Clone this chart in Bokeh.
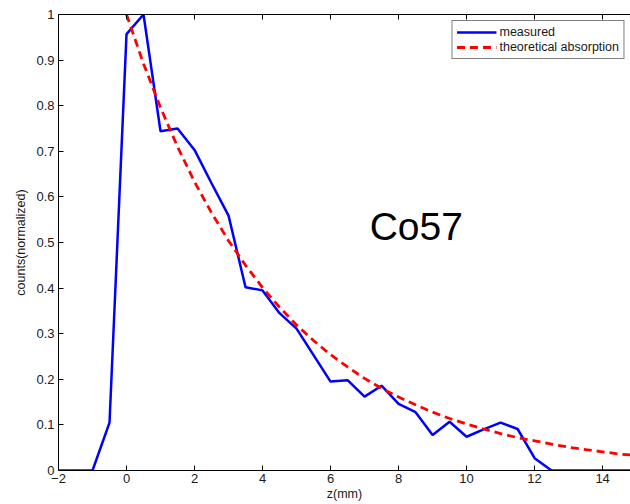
from bokeh.plotting import figure
from bokeh.models import LinearAxis, FixedTicker, Label, Legend, LegendItem, Range1d
from bokeh.embed import file_html
from bokeh.resources import INLINE

# measured profile
z_measured = [-2, -1.5, -1, -0.5, 0, 0.5, 1, 1.5, 2, 2.5, 3, 3.5, 4, 4.5, 5, 5.5,
              6, 6.5, 7, 7.5, 8, 8.5, 9, 9.5, 10, 10.5, 11, 11.5, 12, 12.5,
              13, 13.5, 14, 14.5, 15]
counts_measured = [0, 0, 0, 0.105, 0.957, 1.0, 0.744, 0.75, 0.703, 0.63, 0.559,
                   0.402, 0.395, 0.345, 0.311, 0.253, 0.195, 0.198, 0.162, 0.186,
                   0.146, 0.128, 0.078, 0.107, 0.074, 0.09, 0.105, 0.091, 0.027,
                   0, 0, 0, 0, 0, 0]

# theoretical absorption curve
z_theory = [0, 0.5, 1, 1.5, 2, 2.5, 3, 3.5, 4, 4.5, 5, 5.5, 6, 6.5, 7, 7.5, 8,
            8.5, 9, 9.5, 10, 10.5, 11, 11.5, 12, 12.5, 13, 13.5, 14, 14.5, 15]
counts_theory = [1.0, 0.892, 0.796, 0.710, 0.633, 0.565, 0.504, 0.450, 0.401,
                 0.358, 0.319, 0.285, 0.254, 0.227, 0.202, 0.180, 0.161, 0.144,
                 0.128, 0.114, 0.102, 0.091, 0.081, 0.072, 0.065, 0.058, 0.051,
                 0.046, 0.041, 0.036, 0.033]

x_ticks = [-2, 0, 2, 4, 6, 8, 10, 12, 14]
y_ticks = [0, 0.1, 0.2, 0.3, 0.4, 0.5, 0.6, 0.7, 0.8, 0.9, 1]
y_tick_labels = {0: "0", 1: "1"}

FONT = "Liberation Sans"
TXT = "#1a1a1a"

p = figure(width=630, height=504, x_range=Range1d(-2, 14.82), y_range=Range1d(0, 1),
           output_backend="svg", toolbar_location=None,
           min_border_left=58, min_border_right=0, min_border_top=14, min_border_bottom=34)
p.outline_line_color = None
p.xgrid.visible = False
p.ygrid.visible = False
p.background_fill_color = "white"
p.border_fill_color = "white"

r1 = p.line(z_measured, counts_measured, line_color="#0000FF", line_width=2.5)
r2 = p.line(z_theory, counts_theory, line_color="#FF0000", line_width=2.8,
            line_dash="8 5")

for ax in (p.xaxis[0], p.yaxis[0]):
    ax.axis_line_color = "black"
    ax.axis_line_width = 1
    ax.major_tick_in = 5
    ax.major_tick_out = 0
    ax.minor_tick_line_color = None
    ax.major_tick_line_color = "black"
    ax.major_label_text_font = FONT
    ax.major_label_text_font_size = "13px"
    ax.major_label_text_color = TXT
    ax.axis_label_text_font = FONT
    ax.axis_label_text_font_size = "12.5px"
    ax.axis_label_text_font_style = "normal"
    ax.axis_label_text_color = TXT

p.xaxis[0].ticker = FixedTicker(ticks=x_ticks)
p.xaxis[0].axis_label = "z(mm)"
p.xaxis[0].major_label_standoff = 3
p.xaxis[0].axis_label_standoff = 1

p.yaxis[0].ticker = FixedTicker(ticks=y_ticks)
p.yaxis[0].major_label_overrides = y_tick_labels
p.yaxis[0].axis_label = "counts(normalized)"
p.yaxis[0].major_label_standoff = 4

top = LinearAxis(ticker=FixedTicker(ticks=x_ticks), axis_line_color="black",
                 major_tick_in=5, major_tick_out=0, minor_tick_line_color=None,
                 major_label_overrides={t: "" for t in x_ticks},
                 major_label_text_font_size="4px", major_label_standoff=0)
p.add_layout(top, "above")

legend = Legend(items=[LegendItem(label="measured", renderers=[r1]),
                       LegendItem(label="theoretical absorption", renderers=[r2])],
                location="top_right")
legend.margin = 6
legend.padding = 4
legend.spacing = 1
legend.glyph_width = 40
legend.glyph_height = 12
legend.label_height = 12
legend.label_standoff = 3
legend.label_text_font = FONT
legend.label_text_font_size = "12.5px"
legend.label_text_color = TXT
legend.border_line_color = "black"
legend.border_line_width = 1
legend.background_fill_color = "white"
legend.background_fill_alpha = 1
p.add_layout(legend)

p.add_layout(Label(x=7.15, y=0.535, text="Co57", text_font=FONT, text_font_size="39px",
                   text_baseline="middle", text_color="black"))

open("out.html", "w").write(file_html(p, INLINE))
